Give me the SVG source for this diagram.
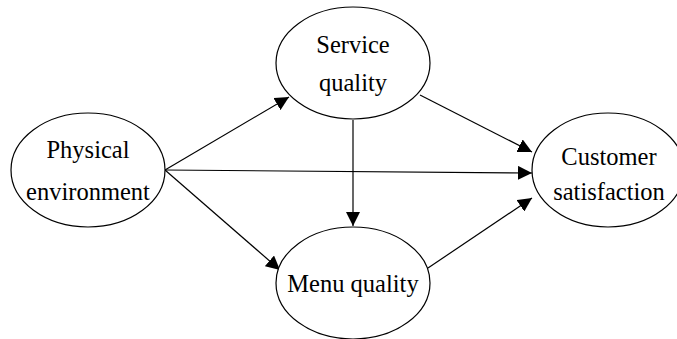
<svg xmlns="http://www.w3.org/2000/svg" width="677" height="339" viewBox="0 0 677 339">
<style>
.node ellipse{fill:#fff;stroke:#000;stroke-width:1.2}
.node text{font-family:"Liberation Serif","Times New Roman",serif;font-size:24.5px;fill:#000;text-anchor:middle}
.edges line{stroke:#000;stroke-width:1.2;marker-end:url(#arr)}
</style>
<defs>
<marker id="arr" viewBox="0 0 14 14" refX="14" refY="7" markerWidth="14" markerHeight="14" markerUnits="userSpaceOnUse" orient="auto">
<path d="M0,0 L14,7 L0,14 Z" fill="#000"/>
</marker>
</defs>
<rect width="677" height="339" fill="#fff"/>
<g class="edges">
<line x1="165" y1="170" x2="289" y2="97"/>
<line x1="165" y1="170" x2="280" y2="270"/>
<line x1="165" y1="170" x2="532" y2="173"/>
<line x1="420" y1="95" x2="532" y2="152"/>
<line x1="428" y1="268" x2="532" y2="198"/>
<line x1="353" y1="120" x2="353" y2="226"/>
</g>
<g id="physical" class="node">
<ellipse cx="88" cy="170" rx="77" ry="57"/>
<text x="88" y="158">Physical</text>
<text x="88" y="200">environment</text>
</g>
<g id="service" class="node">
<ellipse cx="353" cy="63" rx="77" ry="56"/>
<text x="353" y="53">Service</text>
<text x="353" y="91">quality</text>
</g>
<g id="menu" class="node">
<ellipse cx="353" cy="283" rx="77" ry="56"/>
<text x="353" y="292">Menu quality</text>
</g>
<g id="customer" class="node">
<ellipse cx="608" cy="170" rx="76" ry="57"/>
<text x="609" y="165">Customer</text>
<text x="609" y="200">satisfaction</text>
</g>
</svg>
